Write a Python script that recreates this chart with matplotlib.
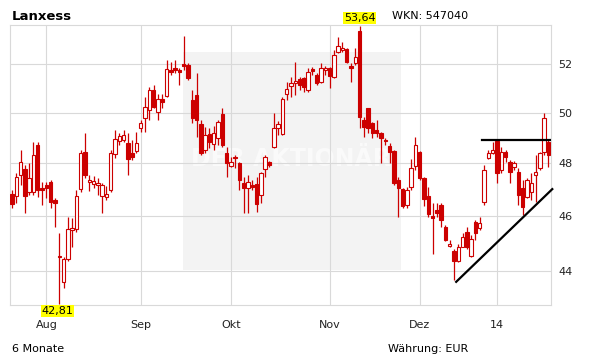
import numpy as np
import matplotlib.pyplot as plt
from matplotlib.ticker import NullLocator
import matplotlib.transforms as mtransforms

# daily candles, about 6 months of trading days (Jul 2013 - Jan 2014)
opens = [46.82, 46.74, 47.55, 47.78, 46.89, 46.89, 48.71, 47.05, 47.16, 47.28,
         46.59, 44.54, 43.61, 44.40, 45.48, 45.52, 47.01, 48.44, 47.28, 47.20,
         47.16, 46.74, 46.71, 46.97, 48.36, 48.87, 48.91, 48.79, 48.40, 48.48,
         49.38, 49.78, 50.10, 50.92, 50.02, 50.55, 50.67, 51.75, 51.83, 51.75,
         52.00, 51.96, 50.51, 50.71, 49.54, 48.52, 49.14, 48.75, 48.99, 49.94,
         48.40, 47.89, 48.24, 48.01, 47.24, 47.05, 47.16, 47.20, 46.78, 47.78,
         48.05, 48.63, 49.38, 49.14, 50.76, 51.09, 51.21, 51.37, 51.41, 50.92,
         51.79, 51.54, 51.25, 51.75, 51.83, 51.46, 52.50, 52.59, 52.63, 51.92,
         52.04, 53.40, 49.70, 50.18, 49.58, 49.30, 49.18, 48.91, 48.67, 48.48,
         47.35, 47.01, 46.41, 47.08, 47.89, 48.44, 47.43, 46.74, 46.00, 46.22,
         46.41, 45.59, 44.90, 44.72, 44.33, 44.86, 45.41, 44.51, 45.78, 45.56,
         46.52, 48.20, 48.40, 48.87, 47.74, 48.44, 48.05, 47.85, 47.66, 47.05,
         46.71, 46.89, 47.55, 47.82, 48.44, 48.83]
highs = [46.97, 47.62, 48.52, 47.93, 48.01, 48.83, 48.83, 47.28, 47.28, 47.35,
         46.67, 45.37, 44.47, 45.96, 45.92, 46.97, 48.52, 49.18, 47.55, 47.51,
         47.43, 47.24, 47.12, 48.52, 49.30, 49.18, 49.30, 49.18, 48.91, 49.22,
         49.70, 50.63, 51.05, 51.13, 50.76, 50.76, 52.17, 52.08, 52.17, 51.83,
         53.19, 52.04, 50.92, 51.62, 49.70, 49.42, 49.38, 49.46, 49.70, 50.18,
         48.63, 48.24, 48.32, 48.05, 47.47, 47.55, 47.35, 47.47, 47.66, 48.32,
         48.09, 49.98, 49.66, 50.63, 51.25, 51.46, 52.08, 51.46, 51.46, 51.83,
         51.87, 51.62, 52.04, 51.92, 51.87, 52.59, 53.15, 52.93, 52.71, 52.04,
         52.67, 53.64, 49.82, 50.20, 49.62, 49.70, 49.22, 48.99, 48.79, 48.52,
         47.47, 47.05, 47.08, 48.16, 49.02, 48.48, 47.47, 47.08, 46.48, 46.48,
         46.48, 45.67, 45.12, 44.76, 44.94, 45.37, 45.59, 45.30, 45.85, 45.96,
         47.93, 48.52, 48.83, 48.91, 48.63, 48.52, 48.13, 48.09, 47.82, 47.35,
         47.43, 47.62, 48.32, 48.44, 49.98, 48.91]
lows = [46.30, 46.48, 47.16, 46.11, 46.78, 46.78, 46.71, 46.41, 46.67, 46.30,
        45.59, 42.81, 43.37, 44.33, 44.86, 45.41, 46.89, 47.43, 46.93, 47.05,
        46.78, 46.11, 46.59, 46.89, 48.20, 48.71, 48.83, 47.55, 48.13, 48.40,
        49.22, 49.22, 49.70, 50.18, 49.70, 50.18, 50.63, 51.54, 51.62, 51.13,
        51.75, 51.33, 49.58, 49.02, 48.32, 48.40, 48.59, 48.52, 48.71, 48.63,
        47.47, 47.85, 47.82, 46.97, 46.11, 46.11, 46.97, 46.15, 46.48, 47.47,
        47.85, 48.59, 49.10, 49.10, 50.51, 50.63, 50.71, 50.92, 50.84, 50.84,
        51.54, 51.13, 51.21, 51.54, 51.00, 51.41, 52.46, 52.50, 52.04, 51.25,
        51.96, 49.38, 49.02, 49.18, 48.99, 49.02, 48.01, 48.71, 48.01, 47.16,
        45.96, 46.30, 46.30, 46.97, 47.74, 47.35, 46.37, 45.96, 44.58, 45.96,
        45.59, 45.08, 44.86, 43.68, 44.29, 44.83, 44.76, 44.47, 45.12, 45.48,
        46.41, 48.16, 48.36, 47.24, 47.62, 48.05, 47.24, 47.74, 46.41, 46.03,
        46.67, 46.59, 46.52, 47.74, 48.32, 47.85]
closes = [46.45, 47.47, 48.05, 46.74, 47.43, 48.32, 46.97, 46.97, 47.05, 46.52,
          46.48, 44.47, 44.40, 45.52, 45.56, 46.74, 48.40, 47.55, 47.35, 47.31,
          47.24, 47.16, 46.82, 48.40, 48.95, 49.06, 49.10, 48.16, 48.24, 48.79,
          49.58, 50.23, 50.92, 50.23, 50.55, 50.43, 51.79, 51.67, 51.75, 51.67,
          51.92, 51.41, 49.78, 49.70, 48.40, 49.10, 48.83, 49.18, 49.62, 48.71,
          48.01, 48.05, 48.20, 47.35, 47.05, 47.28, 47.08, 46.45, 47.62, 48.24,
          47.93, 49.38, 49.54, 50.55, 50.96, 51.21, 51.29, 51.13, 51.05, 51.67,
          51.71, 51.21, 51.83, 51.83, 51.50, 52.38, 52.76, 52.67, 52.08, 51.83,
          52.29, 49.82, 49.42, 49.38, 49.18, 49.18, 48.99, 48.87, 48.44, 47.24,
          47.05, 46.37, 46.97, 47.82, 48.71, 47.43, 46.63, 46.07, 45.92, 46.11,
          45.85, 45.12, 44.97, 44.33, 44.86, 45.23, 44.83, 45.15, 45.37, 45.74,
          47.74, 48.40, 48.52, 47.62, 48.44, 48.24, 47.66, 48.01, 46.78, 46.33,
          47.35, 47.24, 47.66, 48.40, 49.78, 48.32]

month_pos = [8, 30, 51, 74, 95, 113]
month_labels = ["Aug", "Sep", "Okt", "Nov", "Dez", "14"]
y_ticks = [44, 46, 48, 50, 52]

high_idx, high_val = 81, 53.64
low_idx, low_val = 11, 42.81

# hand-drawn trend lines
resist_x, resist_y = [109.6, 125.4], [48.9, 48.9]
support_x, support_y = [103.5, 125.9], [43.6, 47.0]

red = "#cc0000"
grid_col = "#d9d9d9"

o = np.array(opens)
c = np.array(closes)
x = np.arange(len(o))
up = c >= o

fig = plt.figure(figsize=(6.11, 3.64), dpi=100)
ax = fig.add_axes([10 / 611, 1 - 305 / 364, 541 / 611, 280 / 364])
ax.set_yscale("log")
ax.set_xlim(-0.47, 125.6)
ax.set_ylim(42.79, 53.68)

# watermark box
ax.add_patch(plt.Rectangle((0.32, 0.125), 0.403, 0.78, transform=ax.transAxes,
                           facecolor="#f3f3f3", edgecolor="none", zorder=0))
ax.text(0.52, 0.52, "DER AKTIONÄR", transform=ax.transAxes, fontsize=17,
        fontweight="bold", color="#fafafa", ha="center", va="center", zorder=0.5)

ax.set_yticks(y_ticks)
ax.set_yticklabels([str(v) for v in y_ticks])
ax.yaxis.set_minor_locator(NullLocator())
ax.set_xticks(month_pos)
ax.set_xticklabels(month_labels)
ax.yaxis.tick_right()
ax.tick_params(axis="both", length=0, labelsize=8, colors="#222222")
ax.tick_params(axis="y", pad=5)
ax.tick_params(axis="x", pad=11)
ax.grid(True, color=grid_col, lw=0.8, zorder=0.6)
for s in ax.spines.values():
    s.set_color(grid_col)
    s.set_linewidth(0.8)

# candles
ax.vlines(x, lows, highs, color=red, lw=0.9, zorder=2)
ax.bar(x[up], c[up] - o[up], bottom=o[up], width=0.8, facecolor="white",
       edgecolor=red, lw=0.8, zorder=3)
ax.bar(x[~up], o[~up] - c[~up], bottom=c[~up], width=0.8, facecolor=red,
       edgecolor=red, lw=0.8, zorder=3)

ax.plot(resist_x, resist_y, color="black", lw=1.6, zorder=4)
ax.plot(support_x, support_y, color="black", lw=1.6, zorder=4, clip_on=False)

# high / low markers
trans = mtransforms.blended_transform_factory(ax.transData, ax.transAxes)
ax.text(high_idx, 1.025, f"{high_val:.2f}".replace(".", ","), transform=trans,
        ha="center", va="center", fontsize=8,
        bbox=dict(facecolor="#ffff00", edgecolor="none", pad=0.6))
ax.text(low_idx - 0.4, -0.022, f"{low_val:.2f}".replace(".", ","), transform=trans,
        ha="center", va="center", fontsize=8,
        bbox=dict(facecolor="#ffff00", edgecolor="none", pad=0.6))

fig.text(12 / 611, 1 - 16 / 364, "Lanxess", fontsize=9.5, fontweight="bold",
         va="center", ha="left")
fig.text(392 / 611, 1 - 16 / 364, "WKN: 547040", fontsize=8, va="center", ha="left")
fig.text(12 / 611, 1 - 349 / 364, "6 Monate", fontsize=8, va="center", ha="left")
fig.text(388 / 611, 1 - 349 / 364, "Währung: EUR", fontsize=8, va="center", ha="left")

fig.savefig("out.png", dpi=100)
